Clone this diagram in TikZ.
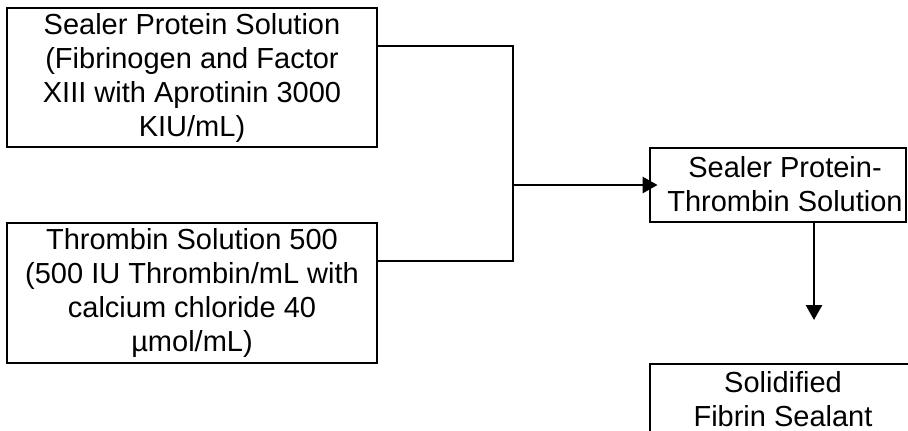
\documentclass[tikz,border=0pt]{standalone}
\usepackage{fontspec}
\setmainfont{Liberation Sans}
\usetikzlibrary{arrows.meta}
\tikzset{
  box/.style={draw=black, line width=2.8pt, rectangle, inner sep=0pt, align=center},
  txt/.style={inner sep=0pt, align=center, font=\fontsize{29}{34}\selectfont},
  conn/.style={draw=black, line width=2.8pt},
  arr/.style={conn, -{Triangle[length=15pt,width=16pt]}}
}
\begin{document}
\begin{tikzpicture}[x=1pt,y=-1pt]
\useasboundingbox (0,0) rectangle (908,431);
\clip (0,0) rectangle (908,431);
\fill[white] (0,0) rectangle (908,431);
% boxes
\node[box, txt, minimum width=370pt, minimum height=139pt] (box1) at (192,77.5)
  {Sealer Protein Solution\\(Fibrinogen and Factor\\XIII with Aprotinin 3000\\KIU/mL)};
\node[box, txt, minimum width=370pt, minimum height=140pt] (box2) at (192,293)
  {Thrombin Solution 500\\(500 IU Thrombin/mL with\\calcium chloride 40\\µmol/mL)};
\node[box, minimum width=256pt, minimum height=74pt] (box3) at (778,185) {};
\node[txt] (box3t) at (785,184) {Sealer Protein-\\Thrombin Solution};
\node[box, minimum width=270pt, minimum height=80pt] (box4) at (785,404) {};
\node[txt] (box4t) at (783,399) {Solidified\\Fibrin Sealant};
% connectors
\coordinate (j1) at (513,46);
\coordinate (j2) at (513,261);
\coordinate (jm) at (513,185);
\draw[conn] (box1.east |- j1) -- (j1) -- (j2) -- (box2.east |- j2);
\draw[arr, shorten >=-9pt] (jm) -- (box3.west |- jm);
\coordinate (vs) at (814,222);
\coordinate (ve) at (814,320);
\draw[arr] (box3.south -| vs) -- (ve);
\end{tikzpicture}
\end{document}
